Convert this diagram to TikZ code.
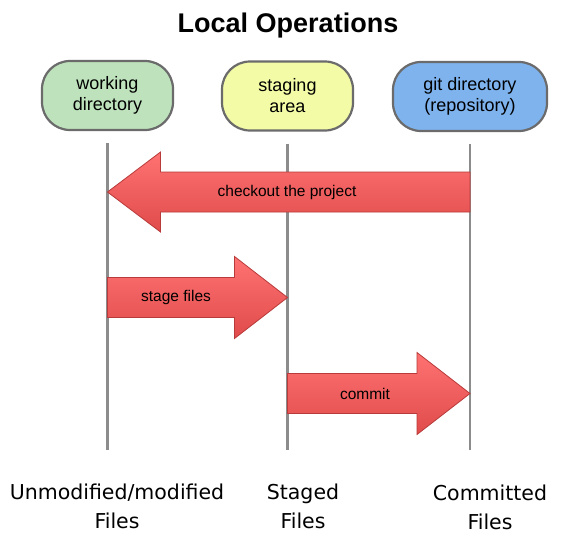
\documentclass[tikz,border=0pt]{standalone}
\usepackage{fontspec}
\setmainfont{Liberation Sans}
\newfontfamily\labelfont{DejaVu Sans}
\usetikzlibrary{calc}
\definecolor{wdgreen}{HTML}{BEE2BC}
\definecolor{sayellow}{HTML}{F3FBA6}
\definecolor{gdblue}{HTML}{7EB3EE}
\definecolor{boxgray}{HTML}{6B6B6B}
\definecolor{linegray}{HTML}{8C8C8C}
\definecolor{arrowtop}{HTML}{FF7272}
\definecolor{arrowbot}{HTML}{E04B4B}
\definecolor{arrowedge}{HTML}{B83A3A}

\tikzset{
  area/.style={draw=boxgray, line width=2.2pt, rounded corners=28pt, minimum width=131pt, minimum height=69pt, align=center, font=\fontsize{18}{21}\selectfont},
  lifeline/.style={draw=linegray, line width=2.5pt},
  blockarrow/.style={draw=arrowedge, line width=0.8pt, top color=arrowtop, bottom color=arrowbot},
  oplabel/.style={font=\fontsize{15.5}{18}\selectfont},
  fileslabel/.style={align=center, font=\labelfont\fontsize{20.5}{29}\selectfont}
}

\begin{document}
\begin{tikzpicture}[x=1pt, y=-1pt]
    \useasboundingbox (0,0) rectangle (565,554);

    \node[font=\bfseries\fontsize{27}{30}\selectfont] (title) at (288,26) {Local Operations};

    \node[area, fill=wdgreen] (wd) at (107.5,95.5) {working\\directory};
    \node[area, fill=sayellow] (sa) at (287.5,96) {staging\\area};
    \node[area, fill=gdblue, minimum width=154pt] (gd) at (470,96.5) {git directory\\(repository)};

    % lifelines
    \coordinate (wd-end) at (107.5,450);
    \coordinate (sa-end) at (287.5,450);
    \coordinate (gd-end) at (470,450);
    \draw[lifeline] ([yshift=-12pt]wd.south) -- (wd-end);
    \draw[lifeline] ([yshift=-12pt]sa.south) -- (sa-end);
    \draw[lifeline] ([yshift=-12pt]gd.south) -- (gd-end);

    % operations
    \coordinate (co-tip) at (107.5,192);
    \coordinate (co-tail) at (470,192);
    \coordinate (st-tail) at (107.5,297.5);
    \coordinate (st-tip) at (287.5,297.5);
    \coordinate (cm-tail) at (287.5,393.5);
    \coordinate (cm-tip) at (470,393.5);

    \draw[blockarrow] (co-tip) -- ++(53,40) -- ++(0,-20) -| (co-tail) -- ++(0,-20) -- ($(co-tip)+(53,-20)$) -- ++(0,-20) -- cycle;
    \draw[blockarrow] (st-tip) -- ++(-53,41) -- ++(0,-21) -| (st-tail) -- ++(0,-20) -- ($(st-tip)+(-53,-20)$) -- ++(0,-21) -- cycle;
    \draw[blockarrow] (cm-tip) -- ++(-53,41) -- ++(0,-21) -| (cm-tail) -- ++(0,-20) -- ($(cm-tip)+(-53,-20)$) -- ++(0,-21) -- cycle;

    \node[oplabel] (checkout) at (287,192) {checkout the project};
    \node[oplabel] (stage) at (176,297.5) {stage files};
    \node[oplabel] (commit) at (365,393.5) {commit};

    \node[fileslabel] (unmod) at (117,506) {Unmodified/modified\\Files};
    \node[fileslabel] (staged) at (303,506) {Staged\\Files};
    \node[fileslabel] (committed) at (490,507) {Committed\\Files};
  \end{tikzpicture}
\end{document}
